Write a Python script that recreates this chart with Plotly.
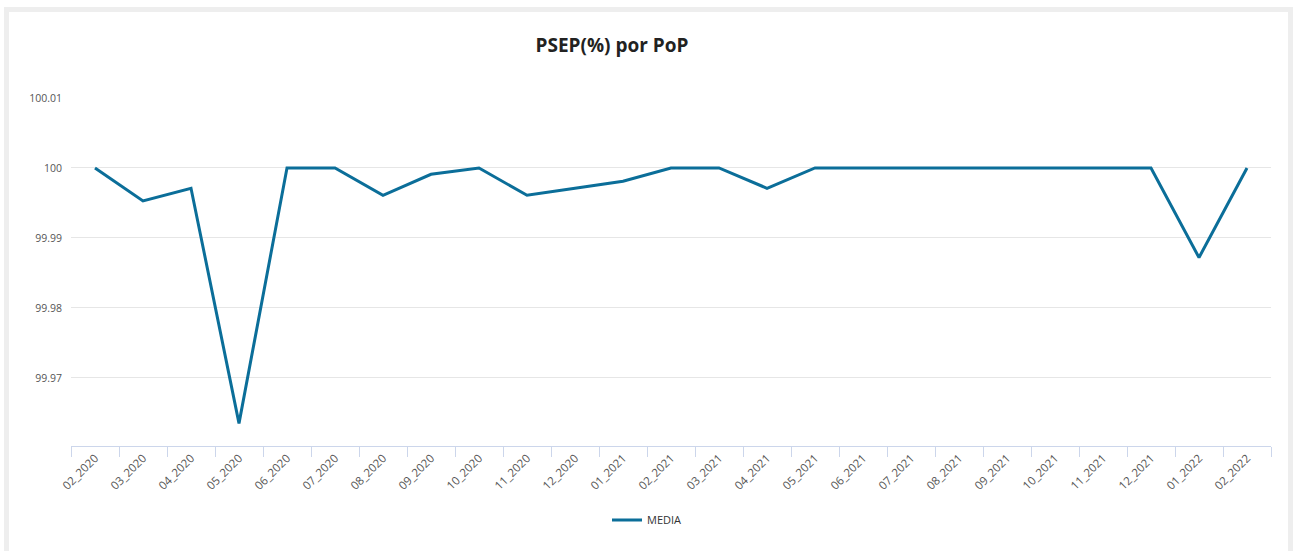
import plotly.graph_objects as go

# monthly PSEP(%) per PoP, series "MEDIA"
months = ["02_2020", "03_2020", "04_2020", "05_2020", "06_2020", "07_2020", "08_2020",
          "09_2020", "10_2020", "11_2020", "12_2020", "01_2021", "02_2021", "03_2021",
          "04_2021", "05_2021", "06_2021", "07_2021", "08_2021", "09_2021", "10_2021",
          "11_2021", "12_2021", "01_2022", "02_2022"]
media = [100.0, 99.9953, 99.9971, 99.9635, 100.0, 100.0, 99.9961,
         99.9991, 100.0, 99.9961, 99.9971, 99.9981, 100.0, 100.0,
         99.9971, 100.0, 100.0, 100.0, 100.0, 100.0, 100.0,
         100.0, 100.0, 99.9872, 100.0]
y_ticks = [99.97, 99.98, 99.99, 100.0, 100.01]
y_tick_text = ["99.97", "99.98", "99.99", "100", "100.01"]

W, H = 1294, 551
L, R, T, B = 71, 23, 98, 105
PW, PH = W - L - R, H - T - B


def px_x(p):
    return (p - L) / PW


def px_y(p):
    return (H - B - p) / PH


FONT = "'Open Sans', Lato, sans-serif"

fig = go.Figure()
fig.add_trace(go.Scatter(x=months, y=media, name="MEDIA", mode="lines",
                         line=dict(color="#0b6e99", width=3)))

# light grey card frame around the chart
fig.add_shape(type="rect", xref="paper", yref="paper", layer="below",
              x0=px_x(6.5), x1=px_x(1290.5), y0=px_y(600), y1=px_y(9.5),
              line=dict(color="#eeeeee", width=5), fillcolor="rgba(0,0,0,0)")

fig.update_layout(
    width=W, height=H,
    margin=dict(l=L, r=R, t=T, b=B),
    paper_bgcolor="white", plot_bgcolor="white",
    font=dict(family=FONT, color="#555555", size=11),
    title=dict(text="<b>PSEP(%) por PoP</b>", xref="container", yref="container",
               x=612 / W, y=1 - 45 / H, xanchor="center", yanchor="middle",
               font=dict(family=FONT, size=19, color="#222222")),
    showlegend=True,
    legend=dict(orientation="h", x=px_x(647), y=px_y(520), xanchor="center",
                yanchor="middle", font=dict(size=11, color="#333333")),
)
fig.update_xaxes(type="category", range=[-0.5, len(months) - 0.5], showgrid=False,
                 showline=True, linecolor="#ccd6eb", linewidth=1, tickson="boundaries",
                 ticks="outside", ticklen=10, tickcolor="#ccd6eb", tickangle=-45,
                 tickfont=dict(size=11.5, color="#555555"))
fig.update_yaxes(range=[99.96027, 100.01], tickvals=y_ticks, ticktext=y_tick_text,
                 showgrid=True, gridcolor="#e6e6e6", gridwidth=1, zeroline=False,
                 showline=False, ticks="", ticklabelstandoff=8,
                 tickfont=dict(size=10.5, color="#555555"))

fig.write_html("out.html", config={"displayModeBar": False},
               post_script="document.body.style.margin='0';")
